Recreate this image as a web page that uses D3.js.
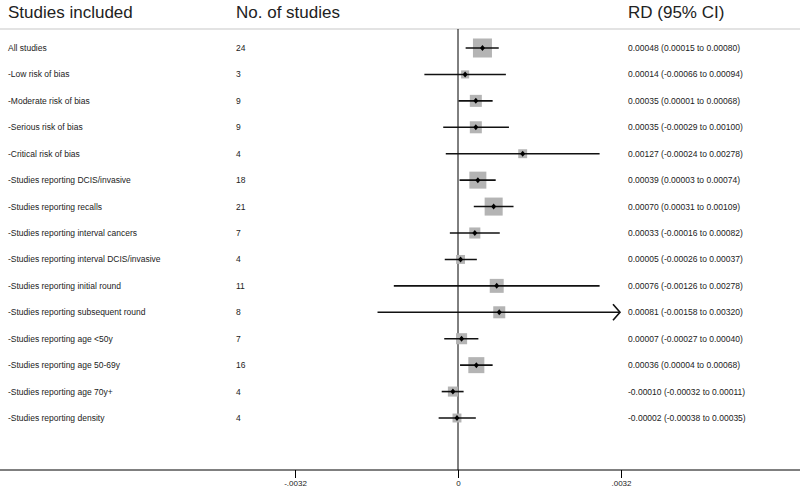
<!DOCTYPE html>
<html><head><meta charset="utf-8">
<script src="https://cdn.jsdelivr.net/npm/d3@7"></script>
<style>body{margin:0;background:#fff;} text{font-family:"Liberation Sans",Arial,sans-serif;}</style>
</head><body><svg id="c" width="800" height="490"></svg>
<script>
const labels = ["All studies","-Low risk of bias","-Moderate risk of bias","-Serious risk of bias","-Critical risk of bias","-Studies reporting DCIS/invasive","-Studies reporting recalls","-Studies reporting interval cancers","-Studies reporting interval DCIS/invasive","-Studies reporting initial round","-Studies reporting subsequent round","-Studies reporting age <50y","-Studies reporting age 50-69y","-Studies reporting age 70y+","-Studies reporting density"];
const nStudies = [24,3,9,9,4,18,21,7,4,11,8,7,16,4,4];
const rd = [0.00048,0.00014,0.00035,0.00035,0.00127,0.00039,0.00070,0.00033,0.00005,0.00076,0.00081,0.00007,0.00036,-0.00010,-0.00002];
const lo = [0.00015,-0.00066,0.00001,-0.00029,-0.00024,0.00003,0.00031,-0.00016,-0.00026,-0.00126,-0.00158,-0.00027,0.00004,-0.00032,-0.00038];
const hi = [0.00080,0.00094,0.00068,0.00100,0.00278,0.00074,0.00109,0.00082,0.00037,0.00278,0.00320,0.00040,0.00068,0.00011,0.00035];
const weights = [100,18,40,40,22,80,90,34,22,54,40,34,71,28,22];
const ticks = [-0.0032,0,0.0032];
const tickLabels = ["-.0032","0",".0032"];
const ciText = ["0.00048 (0.00015 to 0.00080)","0.00014 (-0.00066 to 0.00094)","0.00035 (0.00001 to 0.00068)","0.00035 (-0.00029 to 0.00100)","0.00127 (-0.00024 to 0.00278)","0.00039 (0.00003 to 0.00074)","0.00070 (0.00031 to 0.00109)","0.00033 (-0.00016 to 0.00082)","0.00005 (-0.00026 to 0.00037)","0.00076 (-0.00126 to 0.00278)","0.00081 (-0.00158 to 0.00320)","0.00007 (-0.00027 to 0.00040)","0.00036 (0.00004 to 0.00068)","-0.00010 (-0.00032 to 0.00011)","-0.00002 (-0.00038 to 0.00035)"];

const svg = d3.select("#c");
const x = d3.scaleLinear().domain([-0.0032,0.0032]).range([295,621]);
const y = d3.scaleLinear().domain([0,labels.length-1]).range([48,418]);
const s = d3.scaleSqrt().domain([0,100]).range([0,19]);
const xMax = 0.0032;

// header
const hdr = svg.append("g").attr("font-size",17).attr("fill","#222");
hdr.append("text").attr("x",8).attr("y",18).text("Studies included");
hdr.append("text").attr("x",236).attr("y",18).text("No. of studies");
hdr.append("text").attr("x",628).attr("y",18).text("RD (95% CI)");
svg.append("line").attr("x1",0).attr("x2",800).attr("y1",29).attr("y2",29).attr("stroke","#c8c8c8").attr("stroke-width",1.2);

// zero line
svg.append("line").attr("x1",x(0)).attr("x2",x(0)).attr("y1",29).attr("y2",470).attr("stroke","#000").attr("stroke-width",1);

// axis
const axis = d3.axisBottom(x).tickValues(ticks).tickFormat((d,i)=>tickLabels[i]).tickSize(8).tickSizeOuter(0);
const ag = svg.append("g").attr("transform","translate(0,470)").call(axis);
ag.select(".domain").remove();
ag.selectAll(".tick line").attr("stroke","#000");
ag.selectAll(".tick text").attr("font-size",8).attr("fill","#222").attr("y",10).attr("dy","0.71em").attr("font-family","Liberation Sans, Arial, sans-serif");
svg.append("line").attr("x1",0).attr("x2",800).attr("y1",470).attr("y2",470).attr("stroke","#000").attr("stroke-width",1);

const idx = d3.range(labels.length);
const rows = svg.append("g").selectAll("g").data(idx).join("g");
rows.append("text").attr("x",8).attr("y",i=>y(i)+3).attr("font-size",8.5).attr("fill","#222").text(i=>labels[i]);
rows.append("text").attr("x",236).attr("y",i=>y(i)+3).attr("font-size",8.5).attr("fill","#222").text(i=>nStudies[i]);
rows.append("text").attr("x",628).attr("y",i=>y(i)+3).attr("font-size",8.5).attr("fill","#222").text(i=>ciText[i]);
rows.append("rect")
  .attr("x",i=>x(rd[i])-s(weights[i])/2).attr("y",i=>y(i)-s(weights[i])/2)
  .attr("width",i=>s(weights[i])).attr("height",i=>s(weights[i]))
  .attr("fill","#b4b4b4");
rows.append("line")
  .attr("x1",i=>x(lo[i])).attr("x2",i=>hi[i]>=xMax ? x(xMax)-2 : x(hi[i]))
  .attr("y1",i=>y(i)).attr("y2",i=>y(i)).attr("stroke","#111").attr("stroke-width",1.6);
rows.filter(i=>hi[i]>=xMax).append("path")
  .attr("d",i=>`M${x(xMax)-8},${y(i)-8}L${x(xMax)-1},${y(i)}L${x(xMax)-8},${y(i)+8}`)
  .attr("fill","none").attr("stroke","#111").attr("stroke-width",1.6);
rows.append("path")
  .attr("d",i=>{const cx=x(rd[i]),cy=y(i);return `M${cx},${cy-3}L${cx+2.5},${cy}L${cx},${cy+3}L${cx-2.5},${cy}Z`;})
  .attr("fill","#000");
</script></body></html>
